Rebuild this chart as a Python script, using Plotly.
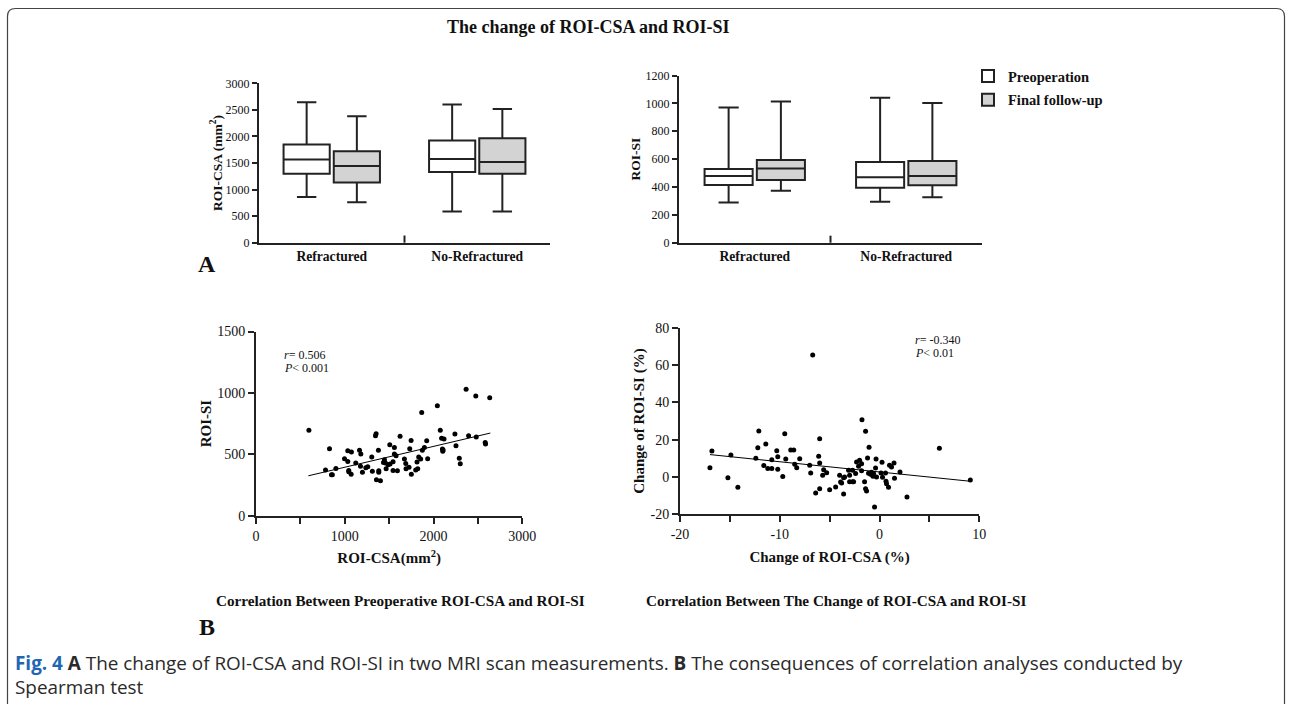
import plotly.graph_objects as go

W, H = 1292, 704

# ---------------- data ----------------
categories = ["Refractured", "No-Refractured"]

csa_pre_min = [860, 585]
csa_pre_q1 = [1300, 1330]
csa_pre_med = [1565, 1575]
csa_pre_q3 = [1850, 1925]
csa_pre_max = [2645, 2600]

csa_fin_min = [760, 585]
csa_fin_q1 = [1135, 1300]
csa_fin_med = [1445, 1520]
csa_fin_q3 = [1720, 1965]
csa_fin_max = [2380, 2515]

si_pre_min = [289, 294]
si_pre_q1 = [414, 395]
si_pre_med = [478, 469]
si_pre_q3 = [529, 579]
si_pre_max = [971, 1040]

si_fin_min = [373, 326]
si_fin_q1 = [450, 412]
si_fin_med = [533, 479]
si_fin_q3 = [593, 586]
si_fin_max = [1014, 1003]

# preoperative ROI-CSA vs ROI-SI
pre_csa = [596, 828, 783, 850, 860, 900, 997, 1034, 1075, 1034, 1045, 1045, 1072, 1124,
           1166, 1181, 1199, 1177, 1237, 1259, 1304, 1311, 1346, 1353, 1379, 1383, 1383,
           1357, 1402, 1447, 1436, 1458, 1507, 1488, 1510, 1466, 1544, 1559, 1559, 1578,
           1544, 1593, 1623, 1672, 1687, 1690, 1724, 1747, 1732, 1750, 1799, 1814, 1833,
           1855, 1867, 1874, 1897, 1923, 1934, 1822, 2043, 2076, 2091, 2118, 2100, 2108,
           2104, 2241, 2253, 2290, 2301, 2395, 2481, 2582, 2586, 2367, 2476, 2633]
pre_si = [695, 546, 372, 334, 334, 385, 464, 529, 518, 442, 369, 358, 337, 429,
          532, 502, 353, 402, 391, 399, 478, 361, 651, 668, 532, 366, 353,
          293, 285, 456, 434, 429, 578, 415, 421, 383, 440, 556, 502, 489,
          369, 366, 646, 461, 426, 383, 394, 613, 546, 337, 372, 437, 478,
          461, 841, 532, 556, 611, 464, 383, 896, 695, 630, 624, 543, 535,
          524, 665, 570, 467, 423, 651, 641, 597, 584, 1030, 975, 960]
pre_fit_x = [590, 2640]
pre_fit_y = [325, 673]

# change of ROI-CSA vs change of ROI-SI (%)
chg_csa = [-17.0, -16.8, -15.2, -14.9, -14.2, -12.4, -12.2, -12.1, -11.4, -11.6, -11.2,
           -10.8, -10.8, -10.3, -10.2, -10.2, -9.7, -9.5, -9.4, -8.9, -8.6, -8.5, -8.3,
           -8.0, -7.0, -6.9, -6.7, -6.4, -6.1, -6.0, -6.0, -6.0, -5.7, -5.6, -5.3, -5.0,
           -4.4, -4.0, -3.9, -3.8, -3.6, -3.5, -3.6, -3.1, -3.0, -3.0, -2.7, -2.6, -2.7,
           -2.4, -2.3, -2.1, -2.0, -1.8, -1.8, -1.76, -1.5, -1.4, -1.4, -1.3, -1.2, -1.05,
           -1.1, -0.9, -0.7, -0.8, -0.65, -0.6, -0.5, -0.4, -0.35, -0.3, 0.25, 0.15, 0.3,
           0.6, 0.65, 0.7, 0.9, 1.0, 1.2, 1.45, 1.5, 2.05, 2.75, 6.0, 9.1]
chg_si = [5.0, 13.9, -0.4, 11.8, -5.5, 10.0, 15.7, 24.6, 17.7, 6.1, 4.5,
          4.6, 9.3, 14.1, 10.9, 4.1, 0.2, 23.2, 9.6, 14.5, 14.5, 6.8, 5.0,
          9.8, 6.3, 2.1, 65.4, -8.6, 11.1, 20.5, 7.5, -6.3, 0.9, 3.9, 2.3, -6.8,
          -5.4, 0.9, -2.7, -3.2, -0.4, 0.0, -9.1, 3.6, 0.9, -2.5, -2.5, -2.5, 3.6,
          1.8, 8.0, 5.7, 8.9, 7.1, 3.4, 30.7, -2.5, 24.5, -6.3, -7.5, 10.2, 15.9,
          2.0, 1.4, 0.9, 2.5, 0.4, 1.8, -16.1, 4.8, 9.6, 0.0, 7.9, 2.1, -0.2,
          2.1, -2.3, -3.6, -5.5, 6.3, 5.4, 7.5, -0.7, 2.7, -10.7, 15.4, -1.6]
chg_fit_x = [-17.0, 9.1]
chg_fit_y = [12.0, -2.3]

chg_x_ticks = [-20, -10, 0, 10]
chg_x_labels = ["-20", "-10", "0", "10"]
chg_y_ticks = [-20, 0, 20, 40, 60, 80]
chg_y_labels = ["-20", "0", "20", "40", "60", "80"]

# ---------------- style ----------------
SERIF = "Liberation Serif, Times New Roman, serif"
LINE = "#222222"
PRE_FILL = "#ffffff"
FIN_FILL = "#d3d3d3"


def px_x(p):
    return p / W


def px_y(p):
    return 1 - p / H


fig = go.Figure()


def add_box(xa, ya, name, fill, q1, med, q3, lo, hi, show):
    fig.add_trace(go.Box(
        x=categories, q1=q1, median=med, q3=q3, lowerfence=lo, upperfence=hi,
        name=name, legendgroup=name, showlegend=show, offsetgroup=name,
        fillcolor=fill, line=dict(color=LINE, width=2), whiskerwidth=0.42,
        boxpoints=False, xaxis=xa, yaxis=ya, hoverinfo="skip"))


add_box("x", "y", "Preoperation", PRE_FILL, csa_pre_q1, csa_pre_med, csa_pre_q3,
        csa_pre_min, csa_pre_max, True)
add_box("x", "y", "Final follow-up", FIN_FILL, csa_fin_q1, csa_fin_med, csa_fin_q3,
        csa_fin_min, csa_fin_max, True)
add_box("x2", "y2", "Preoperation", PRE_FILL, si_pre_q1, si_pre_med, si_pre_q3,
        si_pre_min, si_pre_max, False)
add_box("x2", "y2", "Final follow-up", FIN_FILL, si_fin_q1, si_fin_med, si_fin_q3,
        si_fin_min, si_fin_max, False)

fig.add_trace(go.Scatter(x=pre_csa, y=pre_si, mode="markers", xaxis="x3", yaxis="y3",
                         marker=dict(color="black", size=5), showlegend=False))
fig.add_trace(go.Scatter(x=pre_fit_x, y=pre_fit_y, mode="lines", xaxis="x3", yaxis="y3",
                         line=dict(color="black", width=1), showlegend=False))
fig.add_trace(go.Scatter(x=chg_csa, y=chg_si, mode="markers", xaxis="x4", yaxis="y4",
                         marker=dict(color="black", size=5), showlegend=False))
fig.add_trace(go.Scatter(x=chg_fit_x, y=chg_fit_y, mode="lines", xaxis="x4", yaxis="y4",
                         line=dict(color="black", width=1), showlegend=False))

axis_common = dict(showline=True, linecolor=LINE, linewidth=2, ticks="outside",
                   tickcolor=LINE, tickwidth=2, showgrid=False, zeroline=False,
                   fixedrange=True, automargin=False)

title_font_top = dict(family=SERIF, size=13.5, color="#111", weight="bold")
title_font_bot = dict(family=SERIF, size=15, color="#111", weight="bold")
cat_font = dict(family=SERIF, size=13.6, weight="bold", color="#111")

fig.update_layout(
    width=W, height=H, margin=dict(l=0, r=0, t=0, b=0, pad=0, autoexpand=False),
    paper_bgcolor="white", plot_bgcolor="white",
    boxmode="group", boxgap=0.31, boxgroupgap=0.08,
    font=dict(family=SERIF, color="#111"),
    xaxis=dict(axis_common, domain=[px_x(259), px_x(550)], anchor="y",
               range=[-0.5, 1.5], ticks="", type="category", tickfont=cat_font),
    yaxis=dict(axis_common, domain=[px_y(242.7), px_y(83.3)], anchor="x",
               range=[0, 3000], dtick=500, ticklen=5,
               tickfont=dict(family=SERIF, size=12, color="#111"),
               title=dict(text="ROI-CSA (mm<sup>2</sup>)", font=title_font_top, standoff=0)),
    xaxis2=dict(axis_common, domain=[px_x(679), px_x(982)], anchor="y2",
                range=[-0.5, 1.5], ticks="", type="category", tickfont=cat_font),
    yaxis2=dict(axis_common, domain=[px_y(242.7), px_y(75.5)], anchor="x2",
                range=[0, 1200], dtick=200, ticklen=5,
                tickfont=dict(family=SERIF, size=12, color="#111"),
                title=dict(text="ROI-SI", font=title_font_top, standoff=2)),
    xaxis3=dict(axis_common, domain=[px_x(256), px_x(522.3)], anchor="y3",
                range=[0, 3000], dtick=1000, ticklen=6,
                minor=dict(dtick=500, ticks="outside", ticklen=6, tickwidth=2, tickcolor=LINE),
                tickfont=dict(family=SERIF, size=14, color="#111"),
                title=dict(text="ROI-CSA(mm<sup>2</sup>)", font=title_font_bot, standoff=10)),
    yaxis3=dict(axis_common, domain=[px_y(515.7), px_y(331.5)], anchor="x3",
                range=[0, 1500], dtick=500, ticklen=6,
                tickfont=dict(family=SERIF, size=14, color="#111"),
                title=dict(text="ROI-SI", font=title_font_bot, standoff=2)),
    xaxis4=dict(axis_common, domain=[px_x(680), px_x(979.3)], anchor="y4",
                range=[-20, 10], tickmode="array", tickvals=chg_x_ticks, ticktext=chg_x_labels,
                ticklen=6,
                minor=dict(dtick=5, tick0=0, ticks="outside", ticklen=6, tickwidth=2, tickcolor=LINE),
                tickfont=dict(family=SERIF, size=14, color="#111"),
                title=dict(text="Change of ROI-CSA (%)", font=title_font_bot, standoff=10)),
    yaxis4=dict(axis_common, domain=[px_y(514.3), px_y(327.7)], anchor="x4",
                range=[-20, 80], tickmode="array", tickvals=chg_y_ticks, ticktext=chg_y_labels,
                ticklen=6,
                tickfont=dict(family=SERIF, size=14, color="#111"),
                title=dict(text="Change of ROI-SI (%)", font=title_font_bot, standoff=2)),
    legend=dict(x=px_x(968), y=px_y(60), xanchor="left", yanchor="top",
                font=dict(family=SERIF, size=14.5, weight="bold", color="#111"),
                bgcolor="rgba(0,0,0,0)", itemclick=False, tracegroupgap=2),
    showlegend=True,
)


def ann(text, x, y, size, xanchor="center", bold=False, family=SERIF, color="#111"):
    fig.add_annotation(text=text, x=px_x(x), y=px_y(y), xref="paper", yref="paper",
                       xanchor=xanchor, yanchor="middle", showarrow=False,
                       font=dict(family=family, size=size, color=color,
                                 weight="bold" if bold else "normal"))


ann("The change of ROI-CSA and ROI-SI", 588, 27, 18, bold=True)
ann("A", 207, 264, 24, bold=True)
ann("B", 207, 627, 24, bold=True)
ann("Correlation Between Preoperative ROI-CSA and ROI-SI", 401, 600, 15.2, bold=True)
ann("Correlation Between The Change of ROI-CSA and ROI-SI", 836, 600, 15.2, bold=True)
ann("<i>r</i>= 0.506", 282, 355, 12, xanchor="left")
ann("<i>P</i>< 0.001", 282, 368, 12, xanchor="left")
ann("<i>r</i>= -0.340", 913, 340, 12, xanchor="left")
ann("<i>P</i>< 0.01", 913, 353, 12, xanchor="left")

SANS = "Open Sans, Noto Sans, sans-serif"
ann("<span style='color:#1f66b3'><b>Fig. 4</b></span> <b>A</b> The change of ROI-CSA and ROI-SI in two MRI "
    "scan measurements. <b>B</b> The consequences of correlation analyses conducted by",
    13, 663, 18.9, xanchor="left", family=SANS, color="#2a2a2a")
ann("Spearman test", 13, 687, 18.9, xanchor="left", family=SANS, color="#2a2a2a")

# category-boundary tick marks on the box-plot x axes
fig.add_shape(type="line", xref="x", yref="y domain", x0=0.5, x1=0.5, y0=0, y1=0.045,
              line=dict(color=LINE, width=2))
fig.add_shape(type="line", xref="x2", yref="y2 domain", x0=0.5, x1=0.5, y0=0, y1=0.042,
              line=dict(color=LINE, width=2))

# rounded outer frame
l, r, t, b = px_x(7.5), px_x(1284.5), px_y(8.5), px_y(712)
rx, ry = 8 / W, 8 / H
path = (f"M {l},{b} L {l},{t - ry} Q {l},{t} {l + rx},{t} L {r - rx},{t} "
        f"Q {r},{t} {r},{t - ry} L {r},{b}")
fig.add_shape(type="path", xref="paper", yref="paper", path=path,
              line=dict(color="#444", width=1.2))

page_css = ("document.documentElement.style.margin='0';document.body.style.margin='0';"
            "document.body.style.padding='0';document.documentElement.style.overflow='hidden';"
            "document.body.style.overflow='hidden';")
fig.write_html("out.html", post_script=page_css, config={"displayModeBar": False})
